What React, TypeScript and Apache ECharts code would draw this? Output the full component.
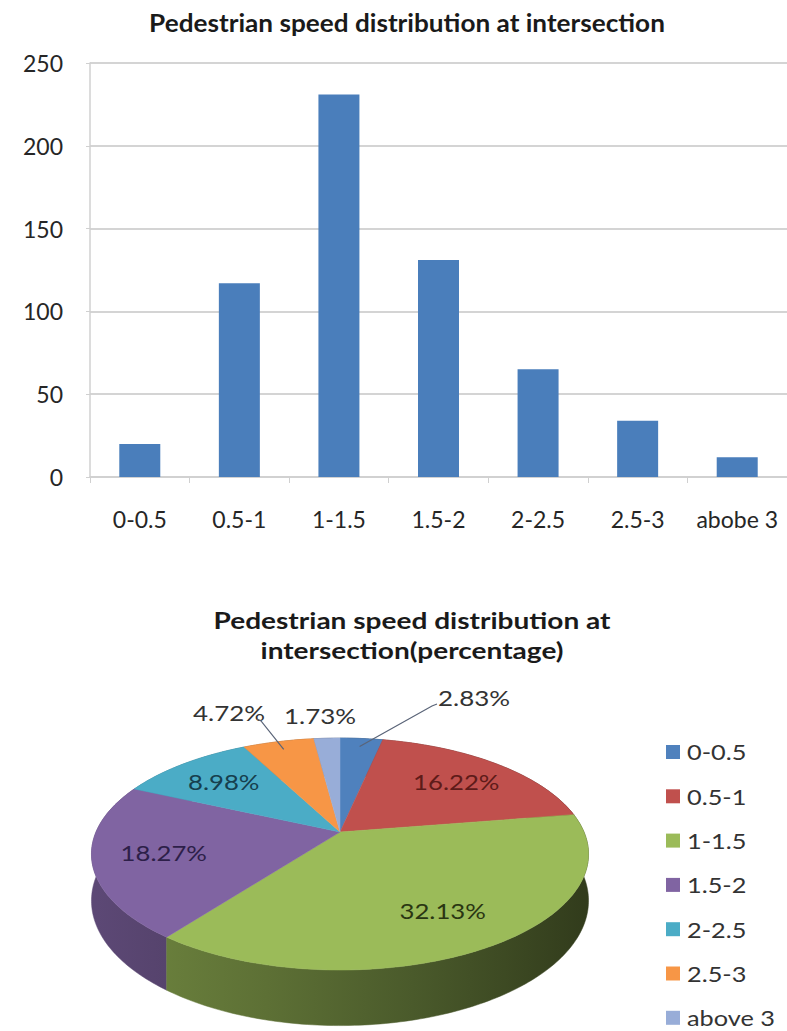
import React, { useEffect, useRef } from "react";
import * as echarts from "echarts";

// Histogram: pedestrian counts per speed class (m/s)
const barCategories = ["0-0.5", "0.5-1", "1-1.5", "1.5-2", "2-2.5", "2.5-3", "abobe 3"];
const barCounts = [20, 117, 231, 131, 65, 34, 12];
const yMin = 0;
const yMax = 250;
const yStep = 50;

// Share of pedestrians per speed class (%)
const pieCategories = ["0-0.5", "0.5-1", "1-1.5", "1.5-2", "2-2.5", "2.5-3", "above 3"];
const piePercents = [2.83, 16.22, 32.13, 18.27, 8.98, 4.72, 1.73];

const FONT = "Lato, 'Liberation Sans', sans-serif";
const BAR_COLOR = "#4a7ebb";
const pieColors = ["#4F81BD", "#C0504D", "#9BBB59", "#8064A2", "#4BACC6", "#F79646", "#98ADD8"];
const insideLabelColors = ["#1f3556", "#5e1b19", "#2a3612", "#2d1f49", "#163f4e", "#6b3a10", "#2e3f60"];

// Tilted disc with a little perspective: far rim is flatter than the near rim
const PIE = { cx: 340, cy: 832, rx: 244, ry: 111.8, persp: 0.19, depth: 45 };

// Labels of the thin slices sit outside the pie, hooked to the rim by a leader line
const outsideLabels: Record<number, { x: number; y: number; hook?: [number, number] }> = {
  0: { x: 474, y: 697, hook: [437, 704] },
  5: { x: 229, y: 712, hook: [257, 719] },
  6: { x: 320, y: 715 },
};

function project(theta: number, r: number): [number, number, number] {
  const u = r * Math.sin(theta);
  const v = -r * Math.cos(theta);
  const d = 1 - PIE.persp * v;
  return [PIE.cx + (PIE.rx * u) / d, PIE.cy + (PIE.ry * v) / d, PIE.depth / d];
}

function shade(hex: string, f: number): string {
  const n = parseInt(hex.slice(1), 16);
  const r = Math.round(((n >> 16) & 255) * f);
  const g = Math.round(((n >> 8) & 255) * f);
  const b = Math.round((n & 255) * f);
  return `rgb(${r},${g},${b})`;
}

function renderSlice(params: any, api: any) {
  const i = params.dataIndex;
  const values = piePercents;
  const total = values.reduce((s, v) => s + v, 0);
  let before = 0;
  for (let k = 0; k < i; k++) before += values[k];
  const value = api.value(0) as number;
  const a0 = (before / total) * Math.PI * 2;
  const a1 = ((before + value) / total) * Math.PI * 2;
  const steps = Math.max(2, Math.ceil((a1 - a0) / (Math.PI / 180)));
  const top: number[][] = [];
  const bottom: number[][] = [];
  for (let k = 0; k <= steps; k++) {
    const t = a0 + ((a1 - a0) * k) / steps;
    const [x, y, h] = project(t, 1);
    top.push([x, y]);
    bottom.push([x, y + h]);
  }
  const center = project(0, 0);
  const mid = (a0 + a1) / 2;
  const midV = -Math.cos(mid);
  const base = pieColors[i];

  const wallFill = {
    type: "linear",
    x: PIE.cx - PIE.rx,
    y: 0,
    x2: PIE.cx + PIE.rx,
    y2: 0,
    global: true,
    colorStops: [
      { offset: 0, color: shade(base, 0.72) },
      { offset: 0.35, color: shade(base, 0.6) },
      { offset: 0.65, color: shade(base, 0.48) },
      { offset: 1, color: shade(base, 0.32) },
    ],
  };

  const children: any[] = [
    {
      type: "polygon",
      shape: { points: top.concat(bottom.slice().reverse()) },
      style: { fill: wallFill, stroke: wallFill, lineWidth: 0.5 },
      z2: 10 + Math.round((midV + 1) * 20),
    },
    {
      type: "polygon",
      shape: { points: [[center[0], center[1]]].concat(top) },
      style: { fill: base, stroke: base, lineWidth: 0.5 },
      z2: 100,
    },
  ];

  const text = value.toFixed(2) + "%";
  const out = outsideLabels[i];
  if (out) {
    children.push({
      type: "text",
      x: out.x,
      y: out.y,
      scaleX: 1.18,
      style: { text, fill: "#333333", fontSize: 22, fontFamily: FONT, align: "center", verticalAlign: "middle" },
      z2: 200,
    });
    if (out.hook) {
      const rim = project(mid, 0.9);
      children.push({
        type: "polyline",
        shape: { points: [out.hook, [out.hook[0] + (out.hook[0] > rim[0] ? -5 : 4), out.hook[1] + 2], [rim[0], rim[1]]] },
        style: { stroke: "#5a6478", lineWidth: 1.2, fill: null },
        z2: 200,
      });
    }
  } else {
    const p = project(mid, 0.72);
    children.push({
      type: "text",
      x: p[0],
      y: p[1],
      scaleX: 1.17,
      style: { text, fill: insideLabelColors[i], fontSize: 22, fontFamily: FONT, align: "center", verticalAlign: "middle" },
      z2: 200,
    });
  }

  return { type: "group", children };
}

export default function App() {
  const ref = useRef<HTMLDivElement>(null);

  useEffect(() => {
    if (!ref.current) return;
    const chart = echarts.init(ref.current, null, { renderer: "svg" });

    const legendItems: any[] = [];
    pieCategories.forEach((name, i) => {
      const y = 752 + i * 44.3;
      legendItems.push({ type: "rect", shape: { x: 666, y: y - 7, width: 14, height: 14 }, style: { fill: pieColors[i] } });
      legendItems.push({
        type: "text",
        x: 687,
        y,
        scaleX: 1.15,
        style: { text: name, fill: "#333333", fontSize: 22, fontFamily: FONT, verticalAlign: "middle" },
      });
    });

    chart.setOption({
      animation: false,
      backgroundColor: "#ffffff",
      graphic: [
        {
          type: "text",
          x: 407,
          y: 22,
          scaleX: 1.09,
          style: {
            text: "Pedestrian speed distribution at intersection",
            fill: "#1a1a1a",
            fontSize: 24,
            fontWeight: "bold",
            fontFamily: FONT,
            align: "center",
            verticalAlign: "middle",
          },
        },
        {
          type: "text",
          x: 412,
          y: 635,
          scaleX: 1.22,
          style: {
            text: "Pedestrian speed distribution at\nintersection(percentage)",
            fill: "#1a1a1a",
            fontSize: 23,
            fontWeight: "bold",
            fontFamily: FONT,
            lineHeight: 30,
            align: "center",
            verticalAlign: "middle",
          },
        },
        ...legendItems,
      ],
      grid: { left: 90, top: 63, width: 700, height: 414, containLabel: false },
      xAxis: {
        type: "category",
        data: barCategories,
        axisLine: { lineStyle: { color: "#d0d0d0", width: 1.5 } },
        axisTick: { show: true, alignWithLabel: false, length: 6, lineStyle: { color: "#d0d0d0" } },
        axisLabel: { interval: 0, fontSize: 23, color: "#262626", margin: 30, fontFamily: FONT },
      },
      yAxis: {
        type: "value",
        min: yMin,
        max: yMax,
        interval: yStep,
        axisLine: { show: true, lineStyle: { color: "#d0d0d0", width: 1.5 } },
        axisTick: { show: true, length: 4, lineStyle: { color: "#d0d0d0" } },
        splitLine: { lineStyle: { color: "#d4d4d4", width: 2 } },
        axisLabel: { fontSize: 23, color: "#262626", margin: 27, fontFamily: FONT },
      },
      series: [
        {
          type: "bar",
          data: barCounts,
          barWidth: 41,
          itemStyle: { color: BAR_COLOR },
        },
        {
          type: "custom",
          coordinateSystem: "none",
          renderItem: renderSlice,
          data: piePercents.map((v, i) => ({ name: pieCategories[i], value: v })),
          silent: true,
        },
      ],
    });

    return () => chart.dispose();
  }, []);

  return (
    <div
      ref={ref}
      style={{ position: "absolute", left: 0, top: 0, width: 787, height: 1031, background: "#fff" }}
    />
  );
}
